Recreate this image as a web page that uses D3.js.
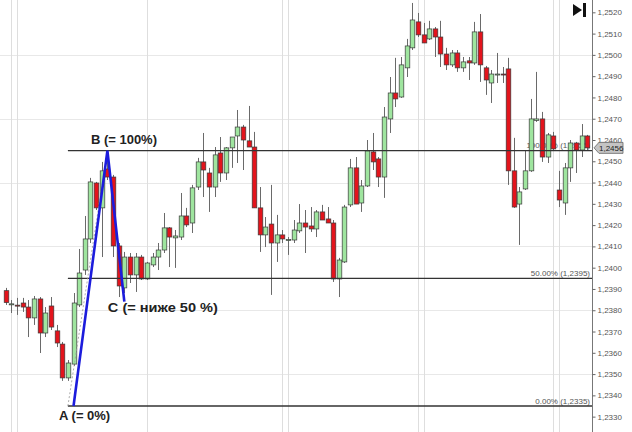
<!DOCTYPE html>
<html><head><meta charset="utf-8">
<script src="https://cdn.jsdelivr.net/npm/d3@7"></script>
<style>body{margin:0;background:#fff}svg{display:block}</style>
</head><body>
<svg id="c" width="632" height="432"></svg>
<script>
const opens=[1.23892,1.23827,1.23824,1.23834,1.23815,1.23764,1.23853,1.23693,1.23820,1.23703,1.23641,1.23482,1.23547,1.23825,1.23989,1.24135,1.24398,1.24281,1.24464,1.24426,1.24102,1.23905,1.24050,1.23966,1.24050,1.23947,1.24013,1.24050,1.24083,1.24187,1.24140,1.24144,1.24243,1.24210,1.24379,1.24497,1.24445,1.24379,1.24539,1.24445,1.24563,1.24619,1.24661,1.24596,1.24567,1.24281,1.24154,1.24205,1.24116,1.24154,1.24130,1.24130,1.24173,1.24210,1.24196,1.24182,1.24262,1.24229,1.24210,1.23947,1.24027,1.24295,1.24469,1.24304,1.24384,1.24544,1.24511,1.24426,1.24699,1.24821,1.24802,1.24939,1.25033,1.25155,1.25094,1.25075,1.25122,1.25084,1.25004,1.24953,1.25009,1.24939,1.24972,1.24962,1.25108,1.24939,1.24868,1.24906,1.24910,1.24934,1.24455,1.24299,1.24370,1.24455,1.24692,1.24699,1.24520,1.24619,1.24365,1.24304,1.24469,1.24586,1.24553,1.24619];
const highs=[1.23905,1.23848,1.23858,1.23858,1.23848,1.23867,1.23862,1.23815,1.23862,1.23731,1.23651,1.23566,1.23881,1.24088,1.24243,1.24422,1.24403,1.24497,1.24549,1.24436,1.24116,1.24074,1.24069,1.24069,1.24060,1.24027,1.24069,1.24116,1.24257,1.24191,1.24177,1.24351,1.24281,1.24389,1.24516,1.24633,1.24469,1.24567,1.24614,1.24567,1.24614,1.24741,1.24671,1.24760,1.24638,1.24379,1.24238,1.24389,1.24248,1.24177,1.24144,1.24224,1.24299,1.24271,1.24285,1.24271,1.24295,1.24285,1.24224,1.24046,1.24295,1.24511,1.24520,1.24412,1.24600,1.24633,1.24520,1.24755,1.24896,1.24986,1.24990,1.25075,1.25244,1.25197,1.25150,1.25160,1.25131,1.25160,1.25033,1.25023,1.25023,1.24990,1.24990,1.25155,1.25192,1.24948,1.24929,1.25009,1.24943,1.24986,1.24610,1.24379,1.24553,1.24793,1.24920,1.24732,1.24633,1.24638,1.24455,1.24492,1.24600,1.24591,1.24675,1.24624];
const lows=[1.23825,1.23787,1.23778,1.23792,1.23674,1.23731,1.23599,1.23674,1.23707,1.23627,1.23468,1.23468,1.23538,1.23815,1.23966,1.24116,1.24271,1.24050,1.24412,1.24050,1.23862,1.23881,1.23928,1.23886,1.23942,1.23942,1.24003,1.23989,1.24069,1.24003,1.23999,1.24130,1.24191,1.24163,1.24365,1.24332,1.24262,1.24332,1.24403,1.24412,1.24469,1.24492,1.24459,1.24567,1.24281,1.24074,1.24097,1.23872,1.24027,1.24116,1.24060,1.24116,1.24163,1.24069,1.24168,1.24144,1.24224,1.24210,1.23933,1.23862,1.24022,1.24285,1.24299,1.24262,1.24379,1.24459,1.24379,1.24328,1.24633,1.24755,1.24798,1.24896,1.25023,1.25084,1.25056,1.25070,1.24990,1.24943,1.24929,1.24943,1.24920,1.24920,1.24882,1.24953,1.24873,1.24812,1.24774,1.24868,1.24868,1.24389,1.24281,1.24107,1.24365,1.24450,1.24685,1.24497,1.24492,1.24553,1.24285,1.24248,1.24403,1.24445,1.24520,1.24553];
const closes=[1.23836,1.23830,1.23820,1.23815,1.23764,1.23853,1.23693,1.23787,1.23721,1.23646,1.23482,1.23552,1.23834,1.23975,1.24135,1.24403,1.24281,1.24455,1.24426,1.24102,1.23914,1.24050,1.23966,1.24050,1.23947,1.24022,1.24050,1.24083,1.24187,1.24144,1.24149,1.24243,1.24201,1.24375,1.24497,1.24459,1.24379,1.24530,1.24445,1.24563,1.24614,1.24661,1.24600,1.24567,1.24281,1.24154,1.24191,1.24116,1.24154,1.24135,1.24132,1.24177,1.24210,1.24191,1.24182,1.24262,1.24224,1.24210,1.23947,1.24036,1.24285,1.24469,1.24299,1.24384,1.24549,1.24497,1.24426,1.24708,1.24821,1.24793,1.24953,1.25042,1.25164,1.25094,1.25056,1.25122,1.25084,1.25004,1.24953,1.25009,1.24939,1.24967,1.24962,1.25108,1.24953,1.24882,1.24910,1.24910,1.24906,1.24455,1.24285,1.24356,1.24455,1.24699,1.24699,1.24520,1.24624,1.24558,1.24318,1.24469,1.24586,1.24553,1.24619,1.24563];

const tickValues=[1.2330,1.2340,1.2350,1.2360,1.2370,1.2380,1.2390,1.2400,1.2410,1.2420,1.2430,1.2440,1.2450,1.2460,1.2470,1.2480,1.2490,1.2500,1.2510,1.2520];
const gridPrices=[1.2350,1.2380,1.2410,1.2440,1.2470,1.2500];
const gridIndices=[1,2,25,49,50,73,74,97,98];
const fibPercents=["100.00%","50.00%","0.00%"];
const fibPrices=[1.2455,1.2395,1.2335];
const fibStartIndex=11;
const waveIndices=[12,18,21];
const wavePrices=[1.2335,1.2455,1.2384];
const waveLabels=["A (= 0%)","B (= 100%)","C (= ниже 50 %)"];

const n=opens.length;
const svg=d3.select("#c");
const x=d3.scaleLinear().domain([0,n-1]).range([5.8,587.2]);
const y=d3.scaleLinear().domain([1.2335,1.2455]).range([406,150.64]);
const axisX=592;
const fmt=v=>d3.format(".4f")(v).replace(".",",");

// grid
svg.append("g").selectAll("line").data(gridPrices).join("line")
  .attr("x1",0).attr("x2",axisX).attr("y1",d=>Math.round(y(d))+0.5).attr("y2",d=>Math.round(y(d))+0.5)
  .attr("stroke","#e8e8e8").attr("stroke-width",1);
svg.append("g").selectAll("line").data(gridIndices).join("line")
  .attr("x1",d=>Math.round(x(d))+0.5).attr("x2",d=>Math.round(x(d))+0.5).attr("y1",0).attr("y2",432)
  .attr("stroke","#dedede").attr("stroke-width",1);

// fib labels (under candles)
svg.append("g").selectAll("text").data(fibPrices).join("text")
  .attr("x",axisX-2).attr("y",d=>y(d)-2.5).attr("text-anchor","end")
  .attr("font-family","Liberation Sans, Arial, sans-serif").attr("font-size",8).attr("fill","#555")
  .text((d,i)=>fibPercents[i]+" ("+fmt(d)+")");

// candles
const cg=svg.append("g");
const idx=d3.range(n);
cg.selectAll("line").data(idx).join("line")
  .attr("x1",i=>Math.round(x(i))+0.5).attr("x2",i=>Math.round(x(i))+0.5)
  .attr("y1",i=>y(highs[i])).attr("y2",i=>y(lows[i]))
  .attr("stroke","#6a6a6a").attr("stroke-width",1);
const bw=4.6;
cg.selectAll("rect").data(idx).join("rect")
  .attr("x",i=>Math.round(x(i))+0.5-bw/2).attr("width",bw)
  .attr("y",i=>y(Math.max(opens[i],closes[i])))
  .attr("height",i=>Math.max(1,Math.abs(y(opens[i])-y(closes[i]))))
  .attr("fill",i=>closes[i]>=opens[i]?"#9fe59f":"#e3141c")
  .attr("stroke","#3a3a3a").attr("stroke-width",0.7);

// fib lines
svg.append("g").selectAll("line").data(fibPrices).join("line")
  .attr("x1",x(fibStartIndex)).attr("x2",axisX).attr("y1",d=>y(d)).attr("y2",d=>y(d))
  .attr("stroke","#333").attr("stroke-width",1.3);

// dashed fib anchor line
svg.append("line")
  .attr("x1",x(fibStartIndex)).attr("y1",y(fibPrices[2]))
  .attr("x2",x(waveIndices[1])).attr("y2",y(fibPrices[0]))
  .attr("stroke","#999").attr("stroke-width",0.8).attr("stroke-dasharray","2,2");

// wave lines
const pts=waveIndices.map((d,i)=>[x(d),y(wavePrices[i])]);
svg.append("path").attr("d",d3.line()(pts)).attr("fill","none")
  .attr("stroke","#1c1cdc").attr("stroke-width",2.6).attr("stroke-linejoin","miter");

// wave labels
const lblOff=[[-14.5,13.5],[-16.5,-7],[-16.5,10]];
const lblLen=[null,null,110];
svg.append("g").selectAll("text").data(waveLabels).join("text")
  .attr("x",(d,i)=>pts[i][0]+lblOff[i][0]).attr("y",(d,i)=>pts[i][1]+lblOff[i][1])
  .attr("font-family","Liberation Sans, Arial, sans-serif").attr("font-weight","bold")
  .attr("font-size",13).attr("fill","#222")
  .each(function(d,i){ if(lblLen[i]) d3.select(this).attr("textLength",lblLen[i]).attr("lengthAdjust","spacingAndGlyphs"); })
  .text(d=>d);

// axis
svg.append("line").attr("x1",axisX+0.5).attr("x2",axisX+0.5).attr("y1",0).attr("y2",432)
  .attr("stroke","#777").attr("stroke-width",1);
const ax=svg.append("g").attr("transform",`translate(${axisX+0.5},0)`)
  .call(d3.axisRight(y).tickValues(tickValues).tickSize(3).tickPadding(2).tickFormat(fmt));
ax.select(".domain").remove();
ax.selectAll(".tick line").attr("stroke","#666");
ax.selectAll(".tick text").attr("font-family","Liberation Sans, Arial, sans-serif").attr("font-size",8).attr("fill","#555");

// current price marker
const last=closes[n-1], yc=y(last);
svg.append("path")
  .attr("d",`M${axisX+2},${yc}L${axisX+7},${yc-5.5}L${axisX+31},${yc-5.5}L${axisX+31},${yc+5.5}L${axisX+7},${yc+5.5}Z`)
  .attr("fill","#c4c4c4").attr("stroke","#666").attr("stroke-width",0.8);
svg.append("text").attr("x",axisX+7).attr("y",yc+3).attr("font-family","Liberation Sans, Arial, sans-serif")
  .attr("font-size",8).attr("fill","#222").text(fmt(last));

// icon
svg.append("path").attr("d","M573,4L582,10L573,16Z").attr("fill","#111");
svg.append("rect").attr("x",583).attr("y",3).attr("width",3).attr("height",14).attr("fill","#111");
</script>
</body></html>
